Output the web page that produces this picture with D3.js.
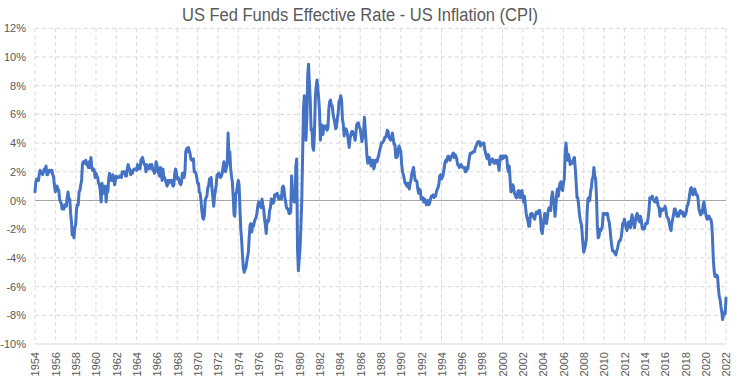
<!DOCTYPE html>
<html>
<head>
<meta charset="utf-8">
<script src="https://cdn.jsdelivr.net/npm/d3@7"></script>
<style>
    body { margin: 0; background: #fff; }
    text { font-family: "Liberation Sans", Arial, sans-serif; fill: #595959; }
</style>
</head>
<body>
<script>
// monthly spread: fed funds effective rate minus CPI yoy (%), first point Jul 1954
const firstMonth = new Date(1954, 6, 1);

const spread1950s = [
    0.6, 1.3, 1.5, 1.4, 1.4, 1.8,
    2.1, 1.9, 2.0, 1.8, 2.0, 2.2, 2.1, 2.4, 1.8, 1.8, 2.0, 2.1,
    2.0, 2.1, 2.1, 1.8, 1.6, 1.0, 0.6, 0.8, 1.0, 0.8, 0.7, 0.1,
    -0.1, -0.2, -0.6, -0.6, -0.6, -0.3, -0.3, -0.4, 0.2, 0.6, 0.0, 0.1,
    -0.9, -1.5, -2.4, -2.3, -2.6, -1.9, -1.7, -0.6, -0.3, -0.3, 0.6, 0.7,
    1.1, 1.4, 2.5, 2.7, 2.6, 2.7, 2.8, 2.5, 2.5, 2.3, 2.7, 2.3
];
const spread1960s = [
    3.0, 2.3, 2.1, 2.2, 2.1, 1.6, 1.9, 1.7, 1.6, 1.2, 1.1, 0.7,
    -0.1, 1.2, 0.7, 0.5, 1.0, 1.0, -0.1, 1.0, 0.6, 1.5, 1.9, 1.6,
    1.4, 1.4, 1.8, 1.5, 1.1, 1.4, 1.7, 1.6, 1.6, 1.6, 1.7, 1.7,
    1.6, 2.0, 2.0, 1.9, 2.0, 1.7, 1.7, 2.2, 2.5, 2.2, 2.2, 1.8,
    1.9, 1.9, 2.1, 2.2, 2.2, 2.2, 2.1, 2.5, 2.2, 2.4, 2.2, 2.8,
    2.9, 3.0, 2.7, 2.5, 2.5, 2.0, 2.5, 2.2, 2.4, 2.2, 2.5, 2.4,
    2.5, 2.1, 2.2, 1.9, 2.1, 2.7, 2.5, 2.0, 1.9, 1.7, 2.3, 1.9,
    1.4, 2.2, 1.7, 1.6, 1.4, 1.2, 1.0, 1.4, 1.2, 1.4, 1.3, 1.4,
    1.2, 1.0, 1.1, 1.9, 2.2, 1.9, 1.5, 1.6, 1.4, 1.2, 1.1, 1.3,
    1.9, 1.9, 1.6, 1.9, 3.4, 3.6, 3.4, 3.7, 3.5, 3.3, 2.9, 2.8
];
const spread1970s = [
    2.8, 2.9, 2.0, 2.0, 1.9, 1.6, 1.2, 1.2, 0.6, 0.5, 0.0, -0.7,
    -1.2, -1.3, -1.0, 0.0, 0.2, 0.3, 0.9, 1.0, 1.5, 1.4, 1.6, 0.8,
    0.2, -0.4, 0.3, 0.7, 1.1, 1.8, 1.7, 1.9, 1.7, 1.6, 1.7, 1.9,
    2.3, 2.7, 2.5, 2.0, 2.3, 2.5, 4.7, 3.1, 3.4, 2.2, 1.7, 1.3,
    0.3, -1.0, -1.1, 0.4, 0.6, 1.0, 1.4, 1.1, -0.6, -2.0, -2.8, -3.8,
    -4.7, -5.0, -4.8, -4.7, -4.3, -3.9, -3.6, -2.5, -1.7, -1.6, -2.2, -1.7,
    -1.8, -1.5, -1.3, -1.2, -0.9, -0.4, -0.1, -0.4, -0.3, -0.5, 0.1, -0.3,
    -0.6, -1.3, -1.7, -2.3, -1.4, -1.5, -1.4, -0.7, -0.5, 0.1, -0.2, -0.2,
    -0.1, 0.4, 0.4, 0.4, 0.5, 0.2, 0.1, 0.3, 0.2, 0.1, 0.9, 1.0,
    0.8, 0.2, -0.1, -0.5, -0.6, -0.6, -0.9, -0.9, -0.8, 1.7, 0.6, 0.5
];
const spread1980s = [
    -0.1, -0.1, 2.4, 2.9, -3.4, -4.9, -4.1, -3.3, -1.7, 0.0, 3.3, 6.4,
    7.3, 4.5, 4.2, 5.7, 8.7, 9.5, 8.2, 7.0, 4.9, 5.0, 3.7, 3.5,
    4.8, 7.2, 7.9, 8.4, 7.8, 7.1, 6.2, 4.2, 5.3, 4.6, 4.6, 5.2,
    5.0, 5.0, 5.2, 4.9, 5.1, 6.4, 6.9, 7.0, 6.6, 6.6, 6.0, 5.7,
    5.4, 5.0, 5.1, 5.7, 6.1, 6.9, 7.0, 7.3, 7.0, 5.7, 5.3, 4.5,
    4.9, 5.0, 4.9, 4.6, 4.2, 3.7, 4.3, 4.6, 4.8, 4.8, 4.6, 4.5,
    4.2, 4.8, 5.3, 5.4, 5.4, 5.1, 5.0, 4.6, 4.1, 4.4, 4.8, 5.8,
    4.9, 4.0, 3.1, 2.6, 3.0, 3.0, 2.7, 2.4, 2.8, 2.8, 2.2, 2.4,
    2.8, 2.7, 2.7, 3.0, 3.2, 3.5, 3.7, 4.0, 4.0, 4.1, 4.2, 4.4,
    4.4, 4.6, 4.9, 4.8, 4.4, 4.3, 4.2, 4.3, 4.7, 4.3, 3.9, 3.9
];
const spread1990s = [
    3.0, 3.0, 3.1, 3.6, 3.8, 3.6, 3.4, 2.5, 2.0, 1.8, 1.5, 1.2,
    1.2, 1.0, 1.2, 1.0, 0.8, 1.2, 1.4, 1.9, 2.1, 2.3, 1.8, 1.4,
    1.4, 1.3, 0.8, 0.5, 0.8, 0.7, 0.1, 0.2, 0.2, -0.1, 0.1, 0.0,
    -0.3, -0.2, 0.0, -0.3, -0.2, 0.1, 0.3, 0.3, 0.4, 0.2, 0.3, 0.3,
    0.6, 0.8, 0.9, 1.2, 1.7, 1.8, 1.5, 1.6, 1.8, 2.2, 2.6, 2.8,
    2.7, 3.0, 3.1, 3.0, 2.8, 3.0, 3.1, 3.2, 3.3, 3.0, 3.2, 3.1,
    2.9, 2.5, 2.5, 2.3, 2.4, 2.5, 2.4, 2.3, 2.3, 2.3, 2.0, 2.0,
    2.3, 2.2, 2.6, 3.0, 3.3, 3.3, 3.3, 3.4, 3.4, 3.4, 3.7, 3.8,
    4.0, 4.1, 4.1, 4.1, 3.8, 3.9, 3.9, 4.0, 4.0, 3.6, 3.3, 3.1,
    2.9, 3.2, 3.1, 2.5, 2.7, 2.8, 2.9, 2.8, 2.6, 2.6, 2.8, 2.6
];
const spread2000s = [
    2.8, 2.5, 2.1, 2.9, 3.1, 2.9, 2.9, 3.1, 3.0, 3.1, 3.1, 3.0,
    2.3, 2.0, 2.4, 1.5, 0.6, 0.8, 1.1, 1.0, 0.5, 0.4, 0.2, 0.2,
    0.6, 0.7, 0.3, 0.2, 0.6, 0.7, 0.3, -0.1, 0.3, -0.3, -0.9, -1.2,
    -1.4, -1.8, -1.8, -1.0, -0.9, -0.9, -1.1, -1.2, -1.3, -1.0, -0.8, -0.9,
    -0.9, -0.7, -0.7, -1.3, -2.1, -2.3, -1.8, -1.3, -0.9, -1.5, -1.6, -1.2,
    -0.7, -0.5, -0.5, -0.7, 0.2, 0.6, 0.1, -0.1, -1.1, -0.5, 0.5, 0.8,
    0.3, 0.9, 1.2, 1.3, 0.8, 0.7, 1.2, 1.5, 3.2, 4.0, 3.3, 2.8,
    3.2, 2.9, 2.5, 2.7, 2.6, 2.6, 2.9, 3.0, 2.2, 1.3, 0.2, 0.2,
    -0.4, -1.0, -1.4, -1.6, -2.2, -3.0, -3.6, -3.4, -3.1, -2.7, -0.7, 0.1,
    0.2, 0.0, 0.6, 0.9, 1.5, 1.6, 2.3, 1.7, 1.5, 0.3, -1.7, -2.6
];
const spread2010s = [
    -2.5, -2.0, -2.1, -2.0, -1.8, -0.9, -1.0, -0.9, -0.9, -1.0, -0.9, -1.3,
    -1.5, -2.0, -2.6, -3.1, -3.5, -3.5, -3.6, -3.7, -3.8, -3.5, -3.3, -3.0,
    -2.8, -2.8, -2.6, -2.2, -1.6, -1.6, -1.3, -1.6, -1.9, -2.1, -1.7, -1.5,
    -1.5, -1.9, -1.4, -1.0, -1.3, -1.7, -1.9, -1.4, -1.1, -0.9, -1.1, -1.4,
    -1.5, -1.1, -1.4, -1.9, -2.0, -2.0, -1.9, -1.6, -1.6, -1.6, -1.2, -0.7,
    0.2, 0.1, 0.2, 0.3, 0.1, 0.0, -0.1, -0.1, 0.2, -0.1, -0.4, -0.5,
    -1.1, -0.6, -0.6, -0.7, -0.6, -0.6, -0.4, -0.7, -1.1, -1.2, -1.3, -1.6,
    -1.9, -2.1, -1.6, -1.3, -1.0, -0.6, -0.6, -0.8, -1.1, -0.9, -1.1, -0.8,
    -0.7, -0.8, -0.9, -0.8, -1.1, -1.1, -1.0, -0.8, -0.4, -0.3, 0.0, 0.4,
    0.8, 0.9, 0.5, 0.4, 0.6, 0.8, 0.6, 0.4, 0.4, 0.1, -0.6, -0.8
];
const spread2020s = [
    -1.0, -0.7, -0.9, -0.3, -0.1, -0.5, -0.9, -1.2, -1.3, -1.1, -1.1, -1.3,
    -1.3, -1.6, -2.5, -4.1, -4.9, -5.3, -5.3, -5.2, -5.3, -6.1, -6.7, -6.9,
    -7.4, -7.8, -8.3, -8.0, -7.8, -7.9, -6.8
];

const yearLabels = [1954, 1956, 1958, 1960, 1962, 1964, 1966, 1968, 1970, 1972, 1974, 1976,
    1978, 1980, 1982, 1984, 1986, 1988, 1990, 1992, 1994, 1996, 1998, 2000, 2002, 2004,
    2006, 2008, 2010, 2012, 2014, 2016, 2018, 2020, 2022];
const pctTicks = [-10, -8, -6, -4, -2, 0, 2, 4, 6, 8, 10, 12];

const w = 736, h = 385;
const plotLeft = 35, plotRight = 726, plotTop = 28.3, plotBottom = 344;

const values = [].concat(spread1950s, spread1960s, spread1970s, spread1980s,
    spread1990s, spread2000s, spread2010s, spread2020s);
const data = values.map((v, i) => ({ date: d3.timeMonth.offset(firstMonth, i), v: v }));

const svg = d3.select("body").append("svg")
    .attr("width", w)
    .attr("height", h);

const xScale = d3.scaleTime()
    .domain([firstMonth, data[data.length - 1].date])
    .range([plotLeft, plotRight]);
const yScale = d3.scaleLinear()
    .domain([-10, 12])
    .range([plotBottom, plotTop]);

const yearDate = y => new Date(y, 6, 1);

// gridlines
svg.append("g").selectAll("line")
    .data(pctTicks)
    .enter().append("line")
    .attr("x1", plotLeft).attr("x2", plotRight)
    .attr("y1", d => yScale(d)).attr("y2", d => yScale(d))
    .attr("stroke", "#d9d9d9")
    .attr("stroke-dasharray", d => d === -10 ? null : "4,3");

svg.append("g").selectAll("line")
    .data(yearLabels)
    .enter().append("line")
    .attr("x1", d => xScale(yearDate(d))).attr("x2", d => xScale(yearDate(d)))
    .attr("y1", plotTop).attr("y2", plotBottom)
    .attr("stroke", "#d9d9d9")
    .attr("stroke-dasharray", "4,3");

// zero line
svg.append("line")
    .attr("x1", plotLeft).attr("x2", plotRight)
    .attr("y1", yScale(0)).attr("y2", yScale(0))
    .attr("stroke", "#a6a6a6")
    .attr("stroke-width", 1.2);

// y axis labels
const yAxis = d3.axisLeft(yScale)
    .tickValues(pctTicks)
    .tickSize(0)
    .tickPadding(0)
    .tickFormat(d => d + "%");
svg.append("g")
    .attr("transform", "translate(26,0)")
    .call(yAxis)
    .call(g => g.select(".domain").remove())
    .selectAll("text")
    .style("font-size", "11px")
    .attr("fill", "#595959");

// x axis labels
const xAxis = d3.axisBottom(xScale)
    .tickValues(yearLabels.map(yearDate))
    .tickSize(0)
    .tickFormat(d3.timeFormat("%Y"));
svg.append("g")
    .attr("transform", "translate(0," + plotBottom + ")")
    .call(xAxis)
    .call(g => g.select(".domain").remove())
    .selectAll("text")
    .style("font-size", "11px")
    .attr("fill", "#595959")
    .attr("text-anchor", "end")
    .attr("transform", "rotate(-90)")
    .attr("x", -8)
    .attr("y", 0)
    .attr("dy", "0.35em");

// the line
const line = d3.line()
    .x(d => xScale(d.date))
    .y(d => yScale(d.v));
svg.append("path")
    .datum(data)
    .attr("d", line)
    .attr("fill", "none")
    .attr("stroke", "#4472c4")
    .attr("stroke-width", 3)
    .attr("stroke-linejoin", "round")
    .attr("stroke-linecap", "round");

// title
svg.append("text")
    .attr("x", 360)
    .attr("y", 21)
    .attr("text-anchor", "middle")
    .attr("textLength", 356)
    .attr("lengthAdjust", "spacingAndGlyphs")
    .style("font-size", "18px")
    .text("US Fed Funds Effective Rate - US Inflation (CPI)");
</script>
</body>
</html>
